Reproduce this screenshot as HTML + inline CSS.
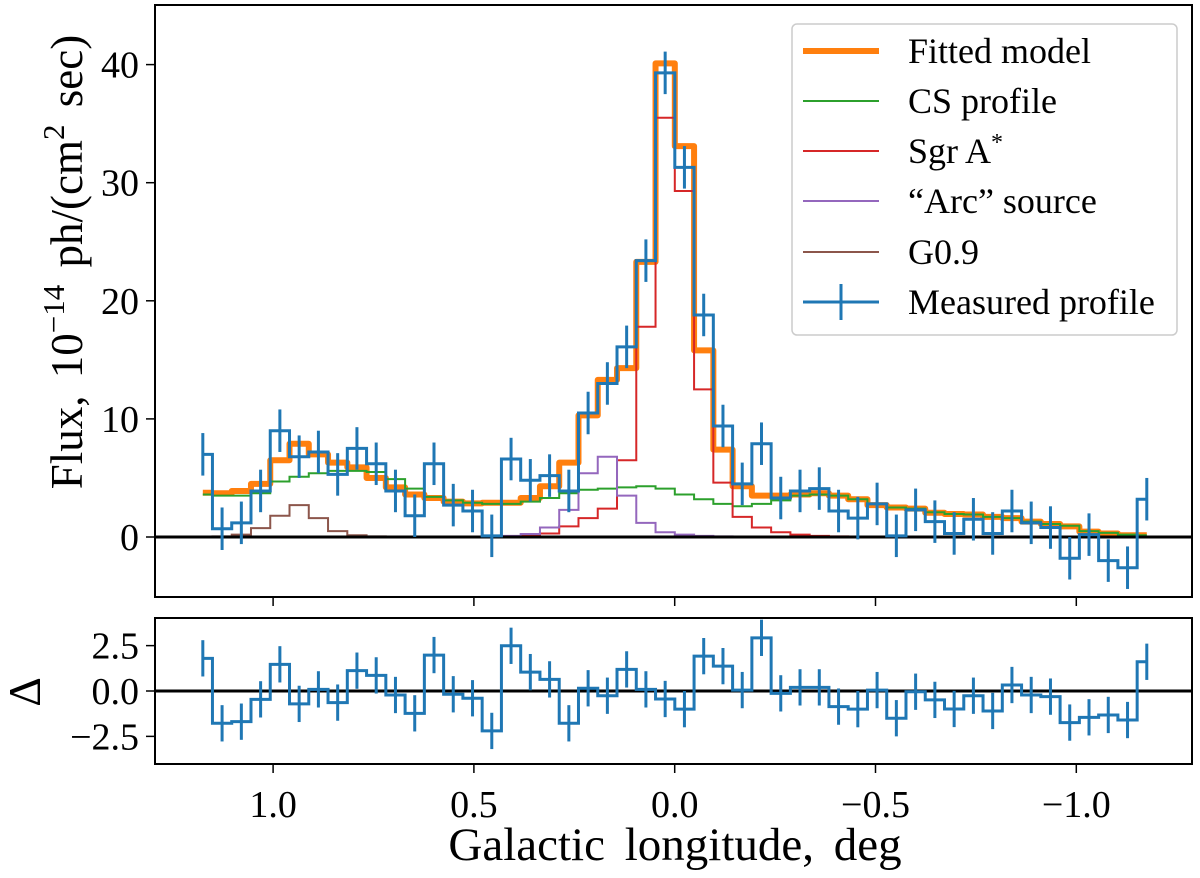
<!DOCTYPE html>
<html><head><meta charset="utf-8"><style>
html,body{margin:0;padding:0;background:#fff;}
svg{display:block;font-family:"Liberation Serif","DejaVu Serif",serif;}
</style></head><body>
<svg id="chart" width="1200" height="878" viewBox="0 0 1200 878" xmlns="http://www.w3.org/2000/svg">
<g id="main"></g>
<g id="resid"></g>
<g id="labels">
<text transform="translate(82,262) rotate(-90)" text-anchor="middle" font-size="45" word-spacing="6">Flux,  10<tspan font-size="31" dy="-18">−14</tspan><tspan dy="18"> ph/(cm</tspan><tspan font-size="31" dy="-18">2</tspan><tspan dy="18"> sec)</tspan></text>
<text transform="translate(40,692) rotate(-90)" text-anchor="middle" font-size="46">Δ</text>
<text x="675" y="860" text-anchor="middle" font-size="47" word-spacing="8">Galactic longitude,  deg</text>
</g>
<g id="legend">
<rect x="792" y="24" width="385" height="311" rx="5" fill="#fff" fill-opacity="0.8" stroke="#cccccc" stroke-width="1.5"/>
<g><line x1="803" y1="51" x2="879" y2="51" stroke="#ff7f0e" stroke-width="6"/><text x="908" y="63" font-size="36">Fitted model</text></g>
<g><line x1="803" y1="101" x2="879" y2="101" stroke="#2ca02c" stroke-width="2"/><text x="908" y="113" font-size="36">CS profile</text></g>
<g><line x1="803" y1="151" x2="879" y2="151" stroke="#d62728" stroke-width="2"/><text x="908" y="163" font-size="36">Sgr A<tspan font-size="24" dy="-13">*</tspan></text></g>
<g><line x1="803" y1="201" x2="879" y2="201" stroke="#9467bd" stroke-width="2"/><text x="908" y="213" font-size="36">“Arc” source</text></g>
<g><line x1="803" y1="252" x2="879" y2="252" stroke="#8c564b" stroke-width="2"/><text x="908" y="264" font-size="36">G0.9</text></g>
<g><line x1="803" y1="302" x2="879" y2="302" stroke="#1f77b4" stroke-width="3"/><line x1="841" y1="284" x2="841" y2="320" stroke="#1f77b4" stroke-width="3"/><text x="908" y="314" font-size="36">Measured profile</text></g>
</g>
</svg>
<script>
const dataFlux = [7.0,0.7,1.2,3.9,9.0,6.8,7.2,5.3,7.5,6.2,3.9,1.8,6.2,2.7,2.2,0.1,6.6,4.8,5.2,3.9,10.5,13.0,16.1,23.4,39.3,31.3,18.8,9.4,4.5,7.9,3.3,3.9,4.1,2.2,1.6,2.8,0.1,2.3,1.3,0.3,1.5,0.3,2.2,1.2,0.8,-1.8,0.2,-2.0,-2.6,3.2];
const dataErr = [1.8,1.8,1.8,1.8,1.8,1.8,1.8,1.8,1.8,1.8,1.8,1.8,1.8,1.8,1.8,1.8,1.8,1.8,1.8,1.8,1.8,1.8,1.8,1.8,1.8,1.8,1.8,1.8,1.8,1.8,1.8,1.8,1.8,1.8,1.8,1.8,1.8,1.8,1.8,1.8,1.8,1.8,1.8,1.8,1.8,1.8,1.8,1.8,1.8,1.8];
const modelFlux = [3.75,3.7,3.9,4.5,6.5,7.9,7.0,6.3,5.9,5.0,4.2,3.6,3.3,3.0,2.85,2.9,2.9,3.3,4.3,6.3,10.3,13.3,14.3,23.3,40.1,33.1,15.8,7.4,4.3,3.5,3.5,3.6,3.7,3.5,3.2,2.7,2.5,2.4,2.05,1.95,1.9,1.7,1.6,1.3,1.1,0.9,0.45,0.3,0.15,0.15];
const csFlux = [3.6,3.5,3.5,3.7,4.7,5.1,5.4,5.6,5.6,5.5,4.9,4.1,3.4,3.1,2.9,2.8,2.8,3.0,3.3,3.7,4.0,4.1,4.2,4.3,4.1,3.6,3.2,2.8,2.6,2.8,3.1,3.5,3.6,3.5,3.2,2.8,2.5,2.4,2.1,1.95,1.9,1.7,1.6,1.3,1.1,0.95,0.5,0.35,0.2,0.15];
const sgraFlux = [0,0,0,0,0,0,0,0,0,0,0,0,0,0,0,0,0.05,0.1,0.3,0.9,1.6,2.4,6.5,17.8,35.5,29.3,12.5,4.6,1.7,0.8,0.4,0.2,0.1,0.05,0,0,0,0,0,0,0,0,0,0,0,0,0,0,0,0];
const arcFlux = [0,0,0,0,0,0,0,0,0,0,0,0,0,0,0,0.05,0.1,0.25,0.8,2.3,5.4,6.8,3.5,1.2,0.4,0.2,0.1,0.05,0,0,0,0,0,0,0,0,0,0,0,0,0,0,0,0,0,0,0,0,0,0];
const g09Flux = [0.02,0.05,0.2,0.75,1.8,2.7,1.6,0.5,0.15,0.05,0,0,0,0,0,0,0,0,0,0,0,0,0,0,0,0,0,0,0,0,0,0,0,0,0,0,0,0,0,0,0,0,0,0,0,0,0,0,0,0];
const residuals = [1.8,-1.78,-1.69,-0.46,1.47,-0.71,0.09,-0.64,1.12,0.86,-0.22,-1.23,1.98,-0.18,-0.40,-2.2,2.49,1.04,0.64,-1.78,0.15,-0.26,1.19,0.09,-0.44,-1.0,1.92,1.37,0.05,2.93,-0.13,0.2,0.2,-0.86,-1.0,0.05,-1.5,-0.04,-0.49,-0.99,-0.26,-1.1,0.33,-0.22,-0.31,-1.74,-1.45,-1.32,-1.6,1.61];
const xTicks = [1.0,0.5,0.0,-0.5,-1.0];
const xTickLabels = ["1.0","0.5","0.0","−0.5","−1.0"];
const yTicks = [0,10,20,30,40];
const yTickLabels = ["0","10","20","30","40"];
const rTicks = [2.5,0,-2.5];
const rTickLabels = ["2.5","0.0","−2.5"];
const binStart = 1.175, binStep = 0.04797;
const lon = dataFlux.map((_, i) => binStart - i * binStep);

const NS = "http://www.w3.org/2000/svg";
const L = 155, R = 1192;
const X0 = 674.7, PXD = 401.6;
const xs = v => X0 - v * PXD;
const mainTop = 5, mainBot = 597, Y0 = 537, PXU = 11.81;
const ys = v => Y0 - v * PXU;
const rTop = 618, rBot = 764, RY0 = 691, RPX = 18.15;
const rs = v => RY0 - v * RPX;

function mk(tag, attrs, parent) {
  const e = document.createElementNS(NS, tag);
  for (const k in attrs) e.setAttribute(k, attrs[k]);
  parent.appendChild(e);
  return e;
}
function stepPath(vals, yf) {
  let d = "M" + xs(lon[0]) + "," + yf(vals[0]);
  for (let i = 1; i < vals.length; i++) {
    const xm = (xs(lon[i - 1]) + xs(lon[i])) / 2;
    d += " H" + xm + " V" + yf(vals[i]);
  }
  d += " H" + xs(lon[vals.length - 1]);
  return d;
}
const main = document.getElementById("main");
const resid = document.getElementById("resid");

let p;
p = mk("path", {d: stepPath(modelFlux, ys), fill: "none", stroke: "#ff7f0e", "stroke-width": 6, "stroke-linejoin": "round"}, main);


p = mk("path", {d: stepPath(csFlux, ys), fill: "none", stroke: "#2ca02c", "stroke-width": 2}, main);


p = mk("path", {d: stepPath(sgraFlux, ys), fill: "none", stroke: "#d62728", "stroke-width": 2}, main);


p = mk("path", {d: stepPath(arcFlux, ys), fill: "none", stroke: "#9467bd", "stroke-width": 2}, main);


p = mk("path", {d: stepPath(g09Flux, ys), fill: "none", stroke: "#8c564b", "stroke-width": 2}, main);


p = mk("line", {x1: L, x2: R, y1: ys(0), y2: ys(0), stroke: "#000", "stroke-width": 3}, main);


p = mk("path", {d: stepPath(dataFlux, ys), fill: "none", stroke: "#1f77b4", "stroke-width": 3}, main);


for (let i = 0; i < dataFlux.length; i++) {
  const e = mk("line", {x1: xs(lon[i]), x2: xs(lon[i]), y1: ys(dataFlux[i] - dataErr[i]), y2: ys(dataFlux[i] + dataErr[i]), stroke: "#1f77b4", "stroke-width": 3}, main);
  
  
}
p = mk("rect", {x: L, y: mainTop, width: R - L, height: mainBot - mainTop, fill: "none", stroke: "#000", "stroke-width": 2}, main);


yTicks.forEach((v, i) => {
  const t = mk("line", {x1: L - 9, x2: L, y1: ys(v), y2: ys(v), stroke: "#000", "stroke-width": 1.5}, main);
  
  
  const tx = mk("text", {x: L - 16, y: ys(v) + 13, "text-anchor": "end", "font-size": 38}, main);
  tx.textContent = yTickLabels[i];
  
  
});
xTicks.forEach(v => {
  const t = mk("line", {x1: xs(v), x2: xs(v), y1: mainBot, y2: mainBot + 9, stroke: "#000", "stroke-width": 1.5}, main);
  
  
});

p = mk("line", {x1: L, x2: R, y1: rs(0), y2: rs(0), stroke: "#000", "stroke-width": 3}, resid);


p = mk("path", {d: stepPath(residuals, rs), fill: "none", stroke: "#1f77b4", "stroke-width": 3}, resid);


for (let i = 0; i < residuals.length; i++) {
  const e = mk("line", {x1: xs(lon[i]), x2: xs(lon[i]), y1: rs(residuals[i] - 1), y2: rs(residuals[i] + 1), stroke: "#1f77b4", "stroke-width": 3}, resid);
  
  
}
p = mk("rect", {x: L, y: rTop, width: R - L, height: rBot - rTop, fill: "none", stroke: "#000", "stroke-width": 2}, resid);


rTicks.forEach((v, i) => {
  const t = mk("line", {x1: L - 9, x2: L, y1: rs(v), y2: rs(v), stroke: "#000", "stroke-width": 1.5}, resid);
  
  
  const tx = mk("text", {x: L - 16, y: rs(v) + 13, "text-anchor": "end", "font-size": 38}, resid);
  tx.textContent = rTickLabels[i];
  
  
});
xTicks.forEach((v, i) => {
  const t = mk("line", {x1: xs(v), x2: xs(v), y1: rBot, y2: rBot + 9, stroke: "#000", "stroke-width": 1.5}, resid);
  
  
  const tx = mk("text", {x: xs(v), y: 817, "text-anchor": "middle", "font-size": 38}, resid);
  tx.textContent = xTickLabels[i];
  
  
});
</script>
</body></html>
